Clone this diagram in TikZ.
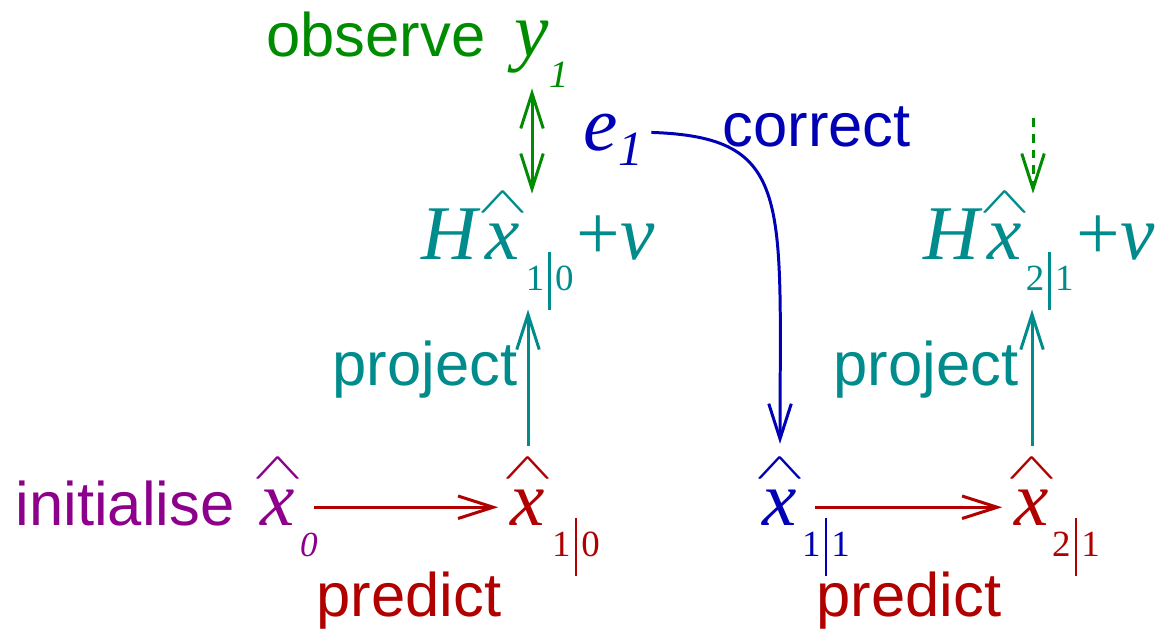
\documentclass[tikz,border=0pt]{standalone}
\usepackage{fontspec}
\setmainfont{Liberation Serif}
\setsansfont{Liberation Sans}
\usepackage{graphicx}
\usetikzlibrary{positioning,arrows.meta}
\definecolor{KObs}{HTML}{008C00}
\definecolor{KProj}{HTML}{008C8C}
\definecolor{KCorr}{HTML}{0000B4}
\definecolor{KPred}{HTML}{B00000}
\definecolor{KInit}{HTML}{8C008C}
% hat over an italic x, and the conditioned subscript
\newcommand{\hatx}{\ooalign{x\cr\hidewidth\smash{\raisebox{0.6em}{\scalebox{1.05}[0.5]{$\wedge$}}}\hidewidth\cr}}
\newcommand{\cond}[2]{{\fontsize{10.5}{12}\selectfont\upshape #1\hspace{0.04cm}\rule[-0.2cm]{0.028cm}{0.58cm}\hspace{0.04cm}#2}}
\newcommand{\lowsub}[1]{\smash{\raisebox{-0.31cm}{#1}}}

\begin{document}
\begin{tikzpicture}[x=0.01cm,y=-0.01cm,>={Straight Barb[length=10pt,width=6.4pt]}]
  \tikzstyle{sym}=[inner sep=0pt,font=\fontsize{22}{24}\selectfont\itshape]
  \tikzstyle{lbl}=[inner sep=0pt,font=\fontsize{17.5}{20}\selectfont\sffamily]
  \tikzstyle{arr}=[line width=0.85pt]
  \useasboundingbox (0,0) rectangle (1165,633);
  % estimates
  \node[sym,text=KInit,anchor=base] (x0) at (278,525)
    {\hatx\rlap{\hspace{0.05cm}\lowsub{\fontsize{10}{12}\selectfont 0}}};
  \node[sym,text=KPred,anchor=base] (x10) at (528,525)
    {\hatx\rlap{\hspace{0.07cm}\lowsub{\cond{1}{0}}}};
  \node[sym,text=KCorr,anchor=base] (x11) at (780,525)
    {\hatx\rlap{\hspace{0.05cm}\lowsub{\cond{1}{1}}}};
  \node[sym,text=KPred,anchor=base] (x21) at (1032,525)
    {\hatx\rlap{\hspace{0.03cm}\lowsub{\cond{2}{1}}}};
  % projected measurements
  \node[sym,text=KProj,anchor=base west] (Hx10) at (421,259)
    {H\hspace{0.08cm}\hatx\hspace{0.06cm}\lowsub{\cond{1}{0}}\hspace{0.03cm}{\upshape+}v};
  \node[sym,text=KProj,anchor=base west] (Hx21) at (923,259)
    {H\hspace{0.08cm}\hatx\hspace{0.04cm}\lowsub{\cond{2}{1}}\hspace{0.03cm}{\upshape+}v};
  \node[sym,text=KObs,anchor=base] (y1) at (532,56)
    {y\rlap{\lowsub{\fontsize{11}{12}\selectfont 1}}};
  \node[sym,text=KCorr,anchor=base west] (e1) at (583,150)
    {e\smash{\raisebox{-0.15cm}{\fontsize{14}{16}\selectfont 1}}};
  \coordinate (y2) at (1033,118);
  % labels
  \node[lbl,text=KObs,base left=0.28cm of y1] (observe) {observe};
  \node[lbl,text=KInit,base left=0.25cm of x0] (init) {initialise};
  \node[lbl,text=KCorr,anchor=base west] (correct) at (722,146) {correct};
  \node[lbl,text=KProj,anchor=base east] (proj1) at (518,385) {project};
  \node[lbl,text=KProj,anchor=base east] (proj2) at (1019,385) {project};
  \node[lbl,text=KPred,anchor=base] (pred1) at (409,616) {predict};
  \node[lbl,text=KPred,anchor=base] (pred2) at (909,616) {predict};
  % connectors
  \draw[arr,->,KPred,shorten <=0.18cm,shorten >=0.12cm] (x0) -- (x10);
  \draw[arr,->,KPred,shorten <=0.17cm,shorten >=0.12cm] (x11) -- (x21);
  \draw[arr,->,KProj,shorten <=0.43cm,shorten >=0.49cm] (x10) -- (x10 |- Hx10.south);
  \draw[arr,->,KProj,shorten <=0.43cm,shorten >=0.49cm] (x21) -- (x21 |- Hx21.south);
  \draw[arr,<->,KObs,shorten <=0.15cm,shorten >=0.14cm] (y1) -- (y1 |- Hx10.north);
  \draw[arr,->,KObs,dash pattern=on 2.5pt off 2pt,shorten >=0.14cm] (y2) -- (y2 |- Hx21.north);
  \draw[arr,->,KCorr,shorten <=0.08cm,shorten >=0.45cm]
    (e1.east) .. controls +(150,5) and +(0,-290) .. (x11.north);
\end{tikzpicture}
\end{document}
